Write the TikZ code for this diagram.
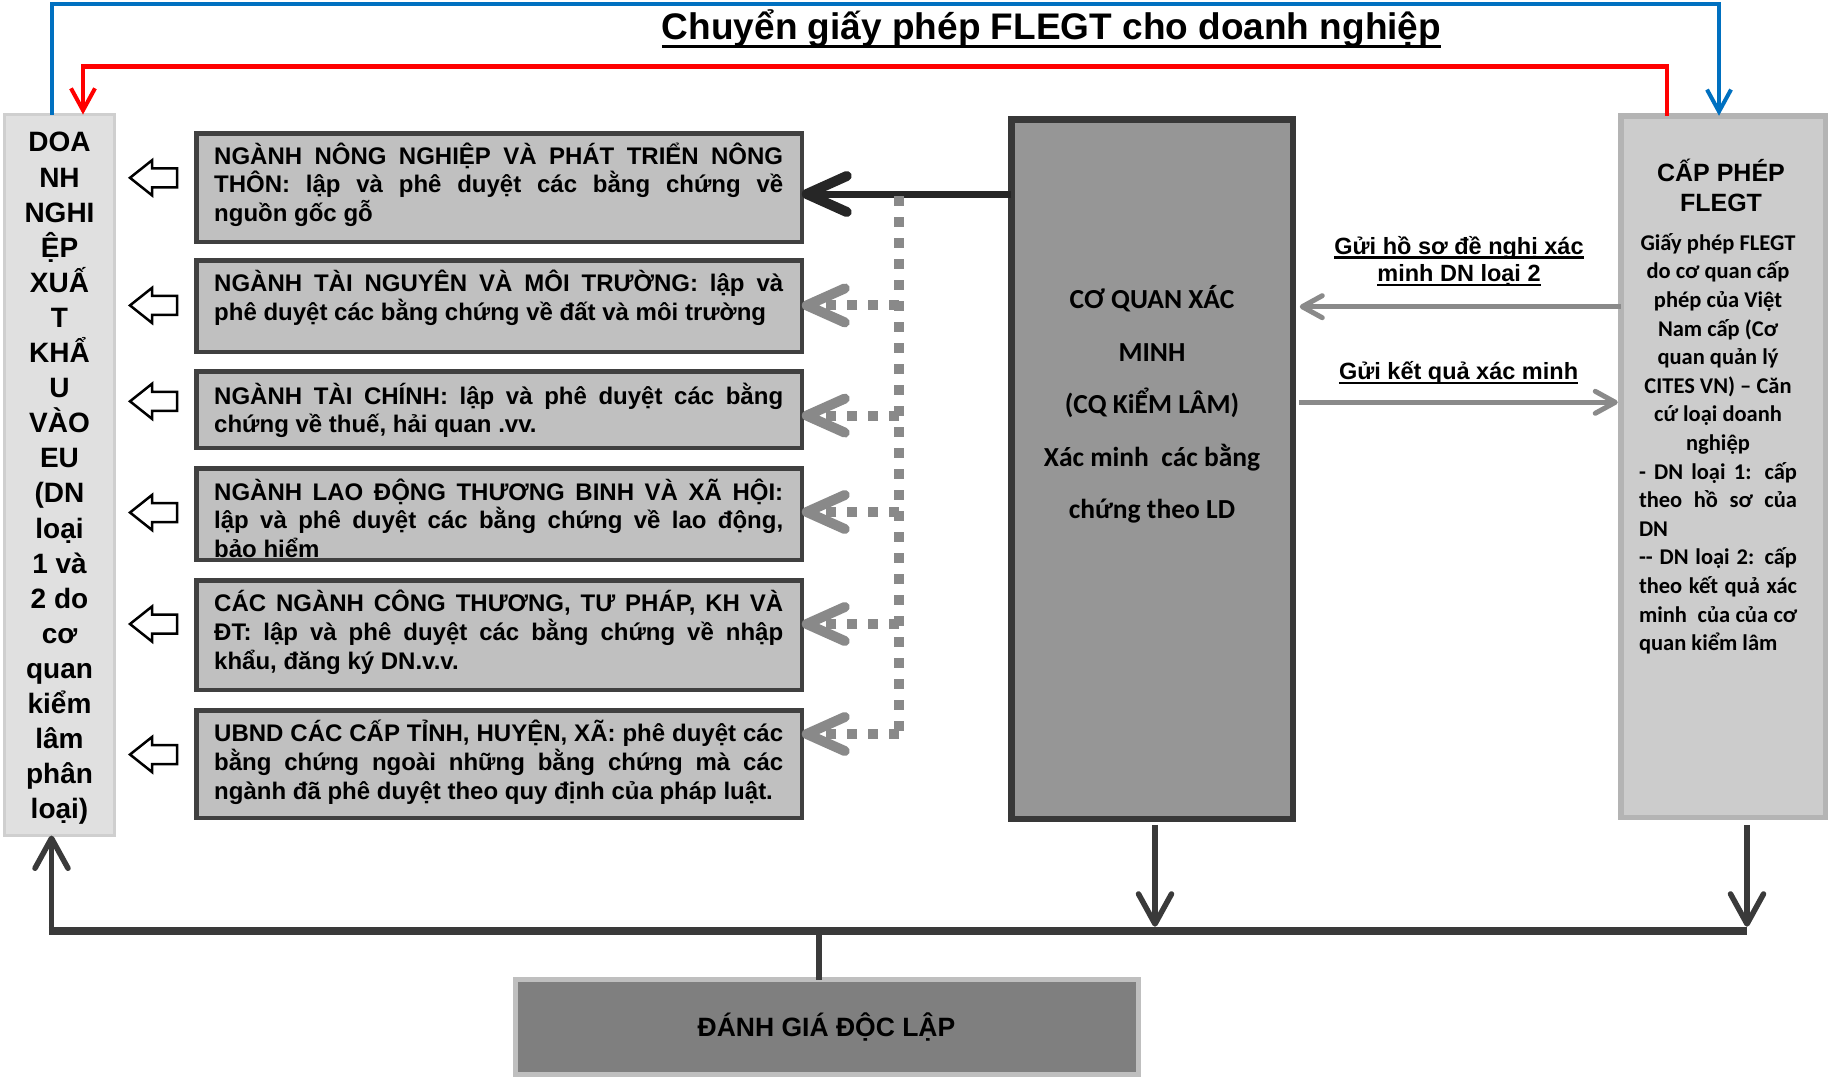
\documentclass[tikz,border=0pt]{standalone}
\usepackage{fontspec}
\setmainfont{Liberation Sans}
\newfontfamily\calib{Carlito}
\usetikzlibrary{arrows.meta,calc}
\definecolor{lbfill}{HTML}{E0E0E0}
\definecolor{lbdraw}{HTML}{CFCFCF}
\definecolor{midfill}{HTML}{C0C0C0}
\definecolor{middraw}{HTML}{404040}
\definecolor{cqfill}{HTML}{969696}
\definecolor{cqdraw}{HTML}{383838}
\definecolor{rbfill}{HTML}{CCCCCC}
\definecolor{rbdraw}{HTML}{B4B4B4}
\definecolor{ebfill}{HTML}{7F7F7F}
\definecolor{ebdraw}{HTML}{BFBFBF}
\definecolor{darkA}{HTML}{262626}
\definecolor{dotgray}{HTML}{898989}
\definecolor{garrow}{HTML}{8A8A8A}
\definecolor{busc}{HTML}{3A3A3A}
\definecolor{blueL}{HTML}{0070C0}
\definecolor{redL}{HTML}{FF0000}
\newcommand\jl[1]{\makebox[569pt][s]{#1}}
\newcommand\rjl[1]{\makebox[158pt][s]{#1}}
\newcommand\rll[1]{\makebox[158pt][l]{#1}}
\begin{document}
\begin{tikzpicture}[x=1pt,y=-1pt,
  box/.style={draw, rectangle, inner sep=0pt, outer sep=0pt},
  lbox/.style={box, fill=lbfill, draw=lbdraw, line width=3pt, minimum width=110pt, minimum height=721pt},
  midbox/.style={box, fill=midfill, draw=middraw, line width=4.5pt, minimum width=605.5pt},
  cqbox/.style={box, fill=cqfill, draw=cqdraw, line width=6.5pt, minimum width=281.5pt, minimum height=699.5pt},
  rbox/.style={box, fill=rbfill, draw=rbdraw, line width=5.5pt, minimum width=204.5pt, minimum height=701.5pt},
  ebox/.style={box, fill=ebfill, draw=ebdraw, line width=5pt, minimum width=623pt, minimum height=95pt,
    font=\bfseries\fontsize{26.5}{32}\selectfont},
  midtext/.style={inner sep=0pt, anchor=north west, align=left, font=\bfseries\fontsize{24}{28.7}\selectfont},
  lbtext/.style={inner sep=0pt, anchor=north, align=center, font=\bfseries\fontsize{28}{35.1}\selectfont},
  cqtext/.style={inner sep=0pt, anchor=north, align=center, font=\calib\bfseries\fontsize{27.5}{52.5}\selectfont},
  rhtext/.style={inner sep=0pt, anchor=north, align=center, font=\bfseries\fontsize{25}{30}\selectfont},
  rbtext/.style={inner sep=0pt, anchor=north, align=center, font=\calib\bfseries\fontsize{22.5}{28.6}\selectfont},
  lbl/.style={inner sep=0pt, anchor=base, font=\bfseries\fontsize{23.5}{28}\selectfont},
  ulineA/.style={line width=2.2pt, draw=black},
  blueline/.style={draw=blueL, line width=4.5pt, -{Straight Barb[length=22pt,width=24pt,line width=4pt]}},
  redline/.style={draw=redL, line width=4.5pt, -{Straight Barb[length=22pt,width=24pt,line width=4pt]}},
  solidarrow/.style={draw=darkA, line width=7pt, -{Straight Barb[length=40pt,width=36pt,line width=10pt,round]}},
  dotline/.style={draw=dotgray, line width=10pt, dash pattern=on 10pt off 11pt},
  dotarrow/.style={dotline, -{Straight Barb[length=38pt,width=34pt,line width=10pt,round]}},
  grayarrow/.style={draw=garrow, line width=5pt, -{Straight Barb[length=20pt,width=22pt,line width=5pt,round]}},
  bus/.style={draw=busc, line width=8.3pt},
  vline/.style={draw=busc, line width=5.5pt, -{Straight Barb[length=30pt,width=33pt,line width=5.5pt,round]}},
  stub/.style={draw=busc, line width=6pt},
  harrow/.pic={\draw[line width=2.5pt, fill=white, line join=miter] (-23.5,0) -- (-1.5,-17.5) -- (-1.5,-9.5) -- (23.5,-9.5) -- (23.5,9.5) -- (-1.5,9.5) -- (-1.5,17.5) -- cycle;}
]
\useasboundingbox (0,0) rectangle (1829,1077);
\fill[white] (0,0) rectangle (1829,1077);

% boxes
\node[lbox] (lb) at (59.5,475) {};
\node[midbox, minimum height=108.5pt] (b1) at (499,187.5) {};
\node[midbox, minimum height=91.5pt] (b2) at (499,306) {};
\node[midbox, minimum height=76.5pt] (b3) at (499,409.5) {};
\node[midbox, minimum height=91.5pt] (b4) at (499,514) {};
\node[midbox, minimum height=109.5pt] (b5) at (499,635) {};
\node[midbox, minimum height=107.5pt] (b6) at (499,764) {};
\node[cqbox] (cq) at (1152,469) {};
\node[rbox] (rb) at (1723,466.5) {};
\node[ebox] (eb) at (826.5,1027) {ĐÁNH GIÁ ĐỘC LẬP};

% title
\node[inner sep=0pt, anchor=base, font=\bfseries\fontsize{37}{44}\selectfont] (title) at (1051.5,39.3) {Chuyển giấy phép FLEGT cho doanh nghiệp};
\draw[line width=3.3pt] ([yshift=-7.4pt]title.base west) -- ([yshift=-7.4pt]title.base east);

% left box text
\node[lbtext] (lbt) at (59.5,126.7) {\rule{0pt}{25pt}DOA\\NH\\NGHI\\ỆP\\XUẤ\\T\\KHẨ\\U\\VÀO\\EU\\(DN\\loại\\1 và\\2 do\\cơ\\quan\\kiểm\\lâm\\phân\\loại)};

% middle texts
\node[midtext] (t1) at (214,139) {\rule{0pt}{25pt}\jl{NGÀNH NÔNG NGHIỆP VÀ PHÁT TRIỂN NÔNG}\\\jl{THÔN: lập và phê duyệt các bằng chứng về}\\nguồn gốc gỗ};
\node[midtext] (t2) at (214,266.7) {\rule{0pt}{25pt}\jl{NGÀNH TÀI NGUYÊN VÀ MÔI TRƯỜNG: lập và}\\phê duyệt các bằng chứng về đất và môi trường};
\node[midtext] (t3) at (214,379) {\rule{0pt}{25pt}\jl{NGÀNH TÀI CHÍNH: lập và phê duyệt các bằng}\\chứng về thuế, hải quan .vv.};
\node[midtext] (t4) at (214,475) {\rule{0pt}{25pt}\jl{NGÀNH LAO ĐỘNG THƯƠNG BINH VÀ XÃ HỘI:}\\\jl{lập và phê duyệt các bằng chứng về lao động,}\\bảo hiểm};
\node[midtext] (t5) at (214,586.7) {\rule{0pt}{25pt}\jl{CÁC NGÀNH CÔNG THƯƠNG, TƯ PHÁP, KH VÀ}\\\jl{ĐT: lập và phê duyệt các bằng chứng về nhập}\\khẩu, đăng ký DN.v.v.};
\node[midtext] (t6) at (214,716.7) {\rule{0pt}{25pt}\jl{UBND CÁC CẤP TỈNH, HUYỆN, XÃ: phê duyệt các}\\\jl{bằng chứng ngoài những bằng chứng mà các}\\ngành đã phê duyệt theo quy định của pháp luật.};

% CQ text
\node[cqtext] (cqt) at (1152,283.3) {\rule{0pt}{25pt}CƠ QUAN XÁC\\MINH\\(CQ KiỂM LÂM)\\Xác minh\ \ các bằng\\chứng theo LD};

% right box texts
\node[rhtext] (rht) at (1721,157.7) {\rule{0pt}{24pt}CẤP PHÉP\\FLEGT};
\node[rbtext] (rbt) at (1718,228) {\rule{0pt}{22pt}Giấy phép FLEGT\\do cơ quan cấp\\phép của Việt\\Nam cấp (Cơ\\quan quản lý\\CITES VN) – Căn\\cứ loại doanh\\nghiệp\\\rjl{- DN loại 1: cấp}\\\rjl{theo hồ sơ của}\\\rll{DN}\\\rjl{-{}- DN loại 2: cấp}\\\rjl{theo kết quả xác}\\\rjl{minh\ \ của của cơ}\\\rll{quan kiểm lâm}};

% labels between CQ and right box
\node[lbl] (l1a) at (1459,254) {Gửi hồ sơ đề nghị xác};
\node[lbl] (l1b) at (1459,281.7) {minh DN loại 2};
\node[lbl] (l2) at (1458.6,379.3) {Gửi kết quả xác minh};
\draw[ulineA] ([yshift=-3.5pt]l1a.base west) -- ([yshift=-3.5pt]l1a.base east);
\draw[ulineA] ([yshift=-3.5pt]l1b.base west) -- ([yshift=-3.5pt]l1b.base east);
\draw[ulineA] ([yshift=-3.5pt]l2.base west) -- ([yshift=-3.5pt]l2.base east);

% hollow arrows
\pic at (153.5,177.8) {harrow};
\pic at (153.5,305.4) {harrow};
\pic at (153.5,401.3) {harrow};
\pic at (153.5,512.5) {harrow};
\pic at (153.5,624) {harrow};
\pic at (153.5,754.5) {harrow};

% top blue and red connectors
\coordinate (bl1) at (52,4);
\coordinate (bl2) at (1719,4);
\draw[blueline] (bl1 |- lb.north) -- (bl1) -- (bl2) -- (bl2 |- rb.north);
\coordinate (rd1) at (1667,66.5);
\coordinate (rd2) at (83,66.5);
\draw[redline] (rd1 |- rb.north) -- (rd1) -- (rd2) -- (rd2 |- lb.north);

% CQ to sector boxes
\coordinate (sa) at (0,194);
\draw[solidarrow] (cq.west |- sa) -- (b1.east |- sa);
\coordinate (dv1) at (899,196);
\coordinate (d2) at (899,305.4);
\coordinate (d3) at (899,415.6);
\coordinate (d4) at (899,512);
\coordinate (d5) at (899,624);
\coordinate (d6) at (899,734);
\draw[dotline] (dv1) -- (d6);
\draw[dotarrow] (d2) -- (b2.east |- d2);
\draw[dotarrow] (d3) -- (b3.east |- d3);
\draw[dotarrow] (d4) -- (b4.east |- d4);
\draw[dotarrow] (d5) -- (b5.east |- d5);
\draw[dotarrow] (d6) -- (b6.east |- d6);

% CQ <-> right box
\coordinate (g1) at (0,306.7);
\coordinate (g2) at (0,402.3);
\draw[grayarrow, shorten >=7pt] (rb.west |- g1) -- (cq.east |- g1);
\draw[grayarrow, shorten <=6pt, shorten >=3pt] (cq.east |- g2) -- (rb.west |- g2);

% bottom bus
\coordinate (busL) at (51.5,930.7);
\coordinate (busR) at (1747,930.7);
\coordinate (busC) at (1155,930.7);
\coordinate (busE) at (819,930.7);
\draw[bus] ([xshift=-2.75pt]busL) -- (busR);
\draw[vline] (busL) -- (busL |- lb.south);
\draw[vline, shorten <=6pt, shorten >=4pt] (busC |- cq.south) -- (busC);
\draw[vline, shorten <=8pt, shorten >=4pt] (busR |- rb.south) -- (busR);
\draw[stub] (busE) -- (busE |- eb.north);
\end{tikzpicture}
\end{document}
